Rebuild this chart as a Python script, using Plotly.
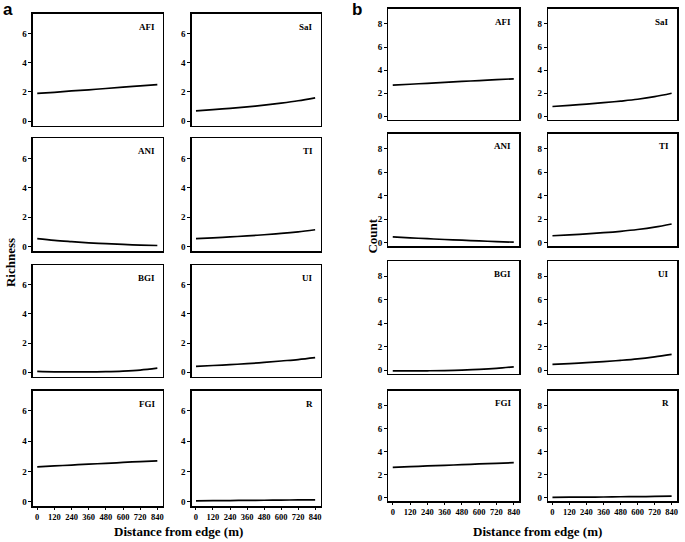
import plotly.graph_objects as go

W, H = 685, 542

distance = [0, 120, 240, 360, 480, 600, 720, 840]
x_ticks = [0, 120, 240, 360, 480, 600, 720, 840]

groups_left = ["AFI", "ANI", "BGI", "FGI"]
groups_right = ["SaI", "TI", "UI", "R"]

# Panel a: Richness
rich_AFI = [1.90, 1.98, 2.07, 2.15, 2.24, 2.33, 2.42, 2.50]
rich_SaI = [0.70, 0.79, 0.88, 0.98, 1.10, 1.24, 1.40, 1.60]
rich_ANI = [0.55, 0.43, 0.34, 0.26, 0.20, 0.15, 0.11, 0.08]
rich_TI = [0.55, 0.60, 0.66, 0.73, 0.81, 0.90, 1.01, 1.15]
rich_BGI = [0.06, 0.03, 0.02, 0.02, 0.04, 0.08, 0.15, 0.28]
rich_UI = [0.40, 0.46, 0.52, 0.59, 0.67, 0.77, 0.87, 1.00]
rich_FGI = [2.30, 2.36, 2.42, 2.48, 2.53, 2.59, 2.65, 2.70]
rich_R = [0.05, 0.06, 0.07, 0.08, 0.09, 0.10, 0.11, 0.12]

# Panel b: Count
cnt_AFI = [2.70, 2.78, 2.86, 2.94, 3.02, 3.10, 3.18, 3.25]
cnt_SaI = [0.85, 0.95, 1.06, 1.18, 1.32, 1.48, 1.70, 2.00]
cnt_ANI = [0.50, 0.42, 0.35, 0.28, 0.22, 0.16, 0.10, 0.05]
cnt_TI = [0.60, 0.67, 0.76, 0.86, 0.98, 1.13, 1.33, 1.60]
cnt_BGI = [-0.05, -0.05, -0.04, -0.02, 0.02, 0.08, 0.17, 0.30]
cnt_UI = [0.50, 0.57, 0.65, 0.74, 0.85, 0.98, 1.15, 1.35]
cnt_FGI = [2.65, 2.71, 2.77, 2.82, 2.88, 2.94, 3.00, 3.05]
cnt_R = [0.05, 0.06, 0.07, 0.08, 0.10, 0.11, 0.13, 0.15]

panel_a = {"AFI": rich_AFI, "SaI": rich_SaI, "ANI": rich_ANI, "TI": rich_TI,
           "BGI": rich_BGI, "UI": rich_UI, "FGI": rich_FGI, "R": rich_R}
panel_b = {"AFI": cnt_AFI, "SaI": cnt_SaI, "ANI": cnt_ANI, "TI": cnt_TI,
           "BGI": cnt_BGI, "UI": cnt_UI, "FGI": cnt_FGI, "R": cnt_R}

yticks_a = [0, 2, 4, 6]
yticks_b = [0, 2, 4, 6, 8]

# layout geometry in pixels
cols_a = [(33, 163), (192, 321)]
cols_b = [(389, 520), (549, 678)]
rows_a = [(14, 126), (139, 252), (266, 378), (392, 508)]
rows_b = [(9, 120), (134, 247), (262, 375), (392, 503)]

serif = "Liberation Serif"
fig = go.Figure()
layout = {}
annotations = []
idx = 0

def add_panel(data, cols, rows, yticks, yrange):
    global idx
    for r in range(4):
        for c in range(2):
            idx += 1
            name = groups_left[r] if c == 0 else groups_right[r]
            xa = "x" if idx == 1 else f"x{idx}"
            ya = "y" if idx == 1 else f"y{idx}"
            fig.add_trace(go.Scatter(
                x=distance, y=data[name], mode="lines",
                line=dict(color="black", width=1.7, shape="spline"),
                xaxis=xa, yaxis=ya, showlegend=False, hoverinfo="skip"))
            x0, x1 = cols[c]
            y0, y1 = rows[r]
            bottom = (r == 3)
            layout["xaxis" if idx == 1 else f"xaxis{idx}"] = dict(
                domain=[x0 / W, x1 / W], anchor=ya, range=[-30, 878],
                showline=True, mirror=True, linecolor="black", linewidth=1.5,
                showgrid=False, zeroline=False, fixedrange=True,
                tickmode="array", tickvals=x_ticks,
                showticklabels=bottom, ticks="outside" if bottom else "",
                ticklen=2, tickcolor="black",
                tickfont=dict(family=serif, size=8.5, color="black", weight="bold"))
            layout["yaxis" if idx == 1 else f"yaxis{idx}"] = dict(
                domain=[1 - y1 / H, 1 - y0 / H], anchor=xa, range=yrange,
                showline=True, mirror=True, linecolor="black", linewidth=1.5,
                showgrid=False, zeroline=False, fixedrange=True,
                tickmode="array", tickvals=yticks,
                ticks="outside", ticklen=3, tickcolor="black",
                tickfont=dict(family=serif, size=9, color="black", weight="bold"))
            annotations.append(dict(
                text=name, xref=f"{xa} domain", yref=f"{ya} domain",
                x=0.955, y=0.885, xanchor="right", yanchor="middle",
                showarrow=False,
                font=dict(family=serif, size=9, color="black", weight="bold")))

add_panel(panel_a, cols_a, rows_a, yticks_a, [-0.3, 7.35])
add_panel(panel_b, cols_b, rows_b, yticks_b, [-0.28, 9.3])

def px(x, y, text, size, family=serif, angle=0):
    annotations.append(dict(
        text=text, xref="paper", yref="paper", x=x / W, y=1 - y / H,
        xanchor="center", yanchor="middle", showarrow=False, textangle=angle,
        font=dict(family=family, size=size, color="black", weight="bold")))

px(8, 10, "a", 17, family="Liberation Sans")
px(358, 10, "b", 17, family="Liberation Sans")
px(10, 263, "Richness", 13, angle=-90)
px(373, 237, "Count", 13, angle=-90)
px(179, 533, "Distance from edge (m)", 13)
px(538, 533, "Distance from edge (m)", 13)

fig.update_layout(
    width=W, height=H,
    margin=dict(l=0, r=0, t=0, b=0),
    paper_bgcolor="white", plot_bgcolor="white",
    annotations=annotations,
    **layout)

fig.write_html(
    "out.html",
    config={"displayModeBar": False, "staticPlot": True},
    post_script="document.body.style.margin='0';document.body.style.overflow='hidden';")
